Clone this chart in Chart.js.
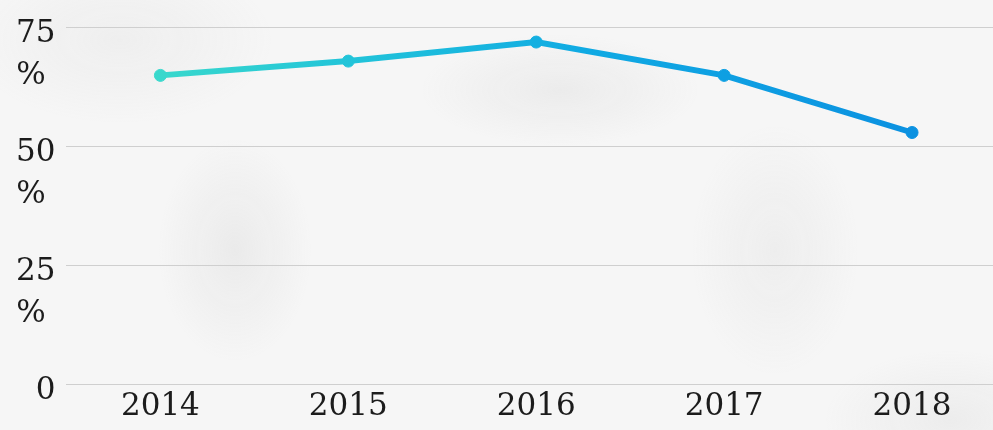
<!DOCTYPE html>
<html>
<head>
<meta charset="utf-8">
<script src="https://cdn.jsdelivr.net/npm/chart.js@4.4.1/dist/chart.umd.min.js"></script>
<style>
    html, body {
        margin: 0;
        padding: 0;
        overflow: hidden;
        width: 993px;
        height: 430px;
    }
    body {
        /* rough stand-in for the marble backdrop */
        background:
            radial-gradient(ellipse 110px 160px at 235px 250px, rgba(140,140,140,0.11), transparent 70%),
            radial-gradient(ellipse 200px 80px at 560px 90px, rgba(140,140,140,0.10), transparent 70%),
            radial-gradient(ellipse 120px 180px at 775px 250px, rgba(150,150,150,0.09), transparent 70%),
            radial-gradient(ellipse 220px 120px at 120px 40px, rgba(160,160,160,0.09), transparent 70%),
            radial-gradient(ellipse 180px 100px at 950px 420px, rgba(150,150,150,0.10), transparent 70%),
            #f6f6f6;
    }
    .chart-wrap {
        position: absolute;
        left: 0;
        top: -46px;
        width: 1013px;
        height: 476px;
    }
</style>
</head>
<body>
<div class="chart-wrap"><canvas id="chart"></canvas></div>
<script>
// data
const years = ['2014', '2015', '2016', '2017', '2018'];
const shares = [65, 68, 72, 65, 53];
const yTicks = [0, 25, 50, 75];

const fontFamily = "'DejaVu Serif', serif";
const textColor = '#1c1c1c';

function lineGradient(context) {
    const chart = context.chart;
    const area = chart.chartArea;
    if (!area) return '#1aa6e2';
    const g = chart.ctx.createLinearGradient(area.left, 0, area.right, 0);
    g.addColorStop(0, '#44e2c6');
    g.addColorStop(0.3, '#22c4d9');
    g.addColorStop(0.55, '#10aae3');
    g.addColorStop(1, '#0a8ae0');
    return g;
}

const ctx = document.getElementById('chart');
const chart = new Chart(ctx, {
    type: 'line',
    data: {
        labels: years,
        datasets: [{
            data: shares,
            borderColor: lineGradient,
            backgroundColor: lineGradient,
            pointBackgroundColor: lineGradient,
            pointBorderColor: lineGradient,
            borderWidth: 6,
            pointRadius: 6,
            pointBorderWidth: 1,
            tension: 0,
            fill: false
        }]
    },
    options: {
        responsive: true,
        maintainAspectRatio: false,
        animation: false,
        layout: {
            autoPadding: false,
            padding: { left: 5, right: 7, top: 27, bottom: 0 }
        },
        plugins: {
            legend: { display: false },
            tooltip: { enabled: false }
        },
        scales: {
            x: {
                offset: true,
                grid: { display: false, drawTicks: false },
                border: { display: false },
                ticks: {
                    color: textColor,
                    padding: 4,
                    font: { family: fontFamily, size: 31 }
                }
            },
            y: {
                min: 0,
                max: 75,
                afterBuildTicks: (axis) => {
                    axis.ticks = yTicks.map(v => ({ value: v }));
                },
                grid: { color: '#cfcfcf', lineWidth: 1, drawTicks: false },
                border: { display: false },
                ticks: {
                    autoSkip: false,
                    color: textColor,
                    padding: 11,
                    labelOffset: 6,
                    font: { family: fontFamily, size: 31, lineHeight: 1.35 },
                    callback: (v) => v === 0 ? '0' : ['', String(v), '% ']
                }
            }
        }
    }
});
</script>
</body>
</html>
